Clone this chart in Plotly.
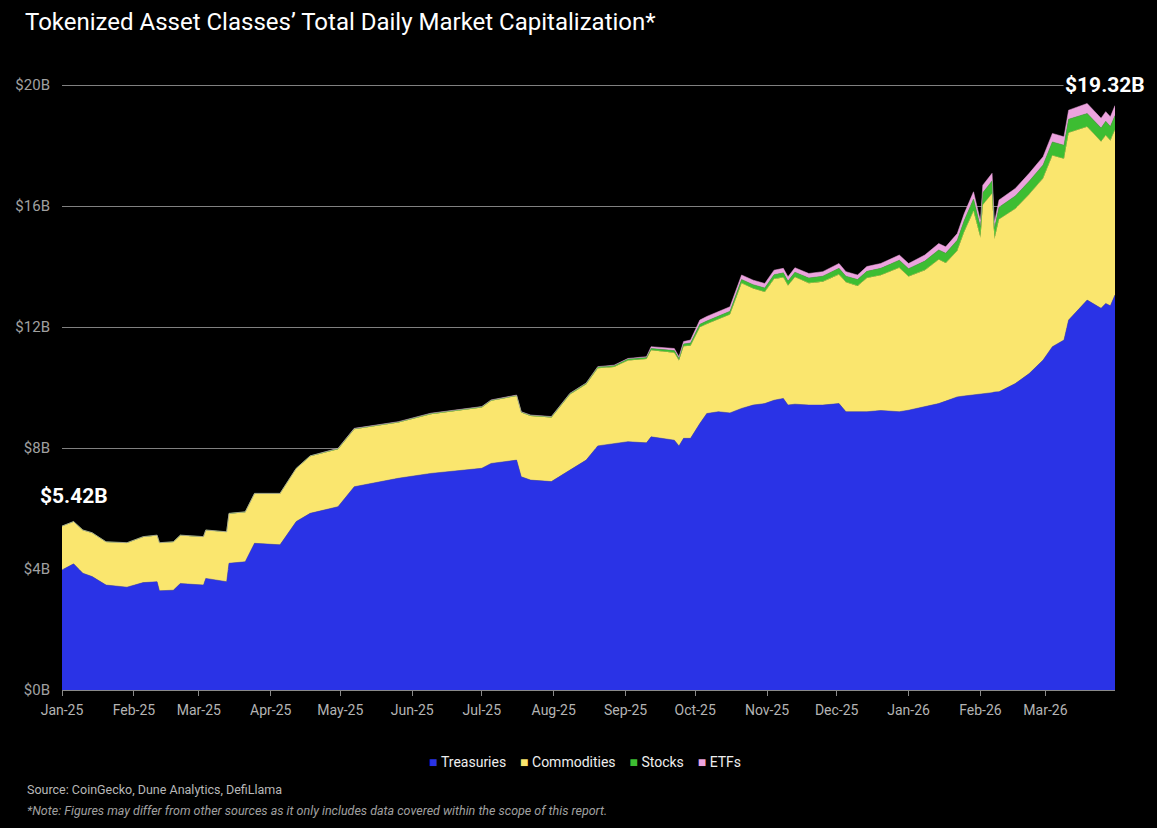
import plotly.graph_objects as go

# ---- Data (values in $B) ----
dates = [
    "2025-01-01", "2025-01-06", "2025-01-10", "2025-01-14", "2025-01-20", "2025-01-29",
    "2025-02-05", "2025-02-11", "2025-02-12", "2025-02-18", "2025-02-21", "2025-03-03",
    "2025-03-04", "2025-03-13", "2025-03-14", "2025-03-21", "2025-03-25", "2025-04-05",
    "2025-04-12", "2025-04-18", "2025-04-30", "2025-05-07", "2025-05-26", "2025-06-09",
    "2025-07-01", "2025-07-05", "2025-07-16", "2025-07-18", "2025-07-22", "2025-07-31",
    "2025-08-08", "2025-08-15", "2025-08-20", "2025-08-27", "2025-09-02", "2025-09-10",
    "2025-09-12", "2025-09-22", "2025-09-24", "2025-09-26", "2025-09-29", "2025-10-03",
    "2025-10-06", "2025-10-11", "2025-10-16", "2025-10-21", "2025-10-26", "2025-10-31",
    "2025-11-04", "2025-11-08", "2025-11-10", "2025-11-13", "2025-11-19", "2025-11-25",
    "2025-12-02", "2025-12-05", "2025-12-10", "2025-12-14", "2025-12-20", "2025-12-28",
    "2026-01-01", "2026-01-08", "2026-01-14", "2026-01-17", "2026-01-22", "2026-01-25",
    "2026-01-29", "2026-02-01", "2026-02-02", "2026-02-06", "2026-02-07", "2026-02-09",
    "2026-02-16", "2026-02-22", "2026-02-28", "2026-03-04", "2026-03-09", "2026-03-11",
    "2026-03-19", "2026-03-25", "2026-03-27", "2026-03-29", "2026-03-31",
]

treasuries = [
    3.97, 4.17, 3.86, 3.75, 3.47, 3.40,
    3.55, 3.58, 3.28, 3.30, 3.52, 3.47,
    3.69, 3.58, 4.19, 4.24, 4.85, 4.80,
    5.57, 5.84, 6.06, 6.72, 7.00, 7.16,
    7.33, 7.49, 7.60, 7.05, 6.94, 6.89,
    7.27, 7.60, 8.07, 8.15, 8.21, 8.17,
    8.37, 8.26, 8.07, 8.32, 8.32, 8.81,
    9.14, 9.20, 9.16, 9.31, 9.42, 9.47,
    9.58, 9.64, 9.42, 9.45, 9.42, 9.42,
    9.47, 9.20, 9.20, 9.20, 9.24, 9.20,
    9.25, 9.36, 9.47, 9.55, 9.69, 9.72,
    9.75, 9.78, 9.80, 9.83, 9.85, 9.86,
    10.13, 10.46, 10.91, 11.35, 11.57, 12.23,
    12.89, 12.62, 12.78, 12.70, 13.06,
]

commodities = [
    1.44, 1.39, 1.42, 1.44, 1.42, 1.46,
    1.51, 1.53, 1.58, 1.59, 1.59, 1.59,
    1.59, 1.64, 1.64, 1.64, 1.64, 1.69,
    1.75, 1.89, 1.90, 1.90, 1.84, 1.96,
    2.01, 2.07, 2.12, 2.12, 2.12, 2.12,
    2.50, 2.51, 2.57, 2.53, 2.68, 2.77,
    2.86, 2.89, 2.82, 3.04, 3.06, 3.18,
    2.96, 3.06, 3.25, 4.14, 3.85, 3.69,
    4.01, 4.00, 3.95, 4.20, 4.03, 4.08,
    4.27, 4.28, 4.16, 4.42, 4.47, 4.76,
    4.42, 4.52, 4.76, 4.57, 4.83, 5.43,
    6.08, 5.17, 6.24, 6.58, 5.05, 5.70,
    5.78, 5.93, 6.01, 6.32, 5.99, 6.19,
    5.73, 5.51, 5.56, 5.47, 5.46,
]

stocks = [
    0.01, 0.01, 0.01, 0.01, 0.01, 0.01,
    0.01, 0.01, 0.01, 0.01, 0.01, 0.01,
    0.01, 0.01, 0.01, 0.01, 0.01, 0.01,
    0.01, 0.01, 0.02, 0.02, 0.02, 0.02,
    0.02, 0.02, 0.02, 0.02, 0.02, 0.02,
    0.03, 0.03, 0.04, 0.04, 0.05, 0.05,
    0.06, 0.07, 0.07, 0.08, 0.09, 0.10,
    0.10, 0.10, 0.11, 0.12, 0.13, 0.13,
    0.14, 0.15, 0.15, 0.16, 0.17, 0.18,
    0.20, 0.20, 0.21, 0.22, 0.23, 0.25,
    0.26, 0.30, 0.32, 0.32, 0.35, 0.37,
    0.40, 0.35, 0.40, 0.42, 0.35, 0.40,
    0.42, 0.43, 0.44, 0.45, 0.45, 0.45,
    0.44, 0.45, 0.46, 0.46, 0.47,
]

etfs = [
    0.00, 0.00, 0.00, 0.00, 0.00, 0.00,
    0.00, 0.00, 0.00, 0.00, 0.00, 0.00,
    0.00, 0.00, 0.00, 0.00, 0.00, 0.00,
    0.00, 0.00, 0.01, 0.01, 0.01, 0.01,
    0.01, 0.01, 0.01, 0.01, 0.01, 0.01,
    0.01, 0.01, 0.01, 0.02, 0.02, 0.03,
    0.06, 0.07, 0.06, 0.08, 0.10, 0.14,
    0.15, 0.15, 0.15, 0.15, 0.15, 0.15,
    0.15, 0.15, 0.14, 0.15, 0.15, 0.15,
    0.16, 0.15, 0.15, 0.16, 0.16, 0.17,
    0.17, 0.20, 0.21, 0.21, 0.22, 0.23,
    0.24, 0.20, 0.25, 0.25, 0.20, 0.24,
    0.25, 0.26, 0.27, 0.28, 0.28, 0.30,
    0.33, 0.32, 0.32, 0.32, 0.33,
]

series_names = ["Treasuries", "Commodities", "Stocks", "ETFs"]
series_colors = ["#2a33e6", "#fae66e", "#3dbd32", "#eca3de"]
y_ticks = [0, 4, 8, 12, 16, 20]
y_tick_labels = ["$0B", "$4B", "$8B", "$12B", "$16B", "$20B"]
start_label = "$5.42B"
end_label = "$19.32B"

FONT = "Roboto"

fig = go.Figure()
for name, vals, col in zip(series_names, [treasuries, commodities, stocks, etfs], series_colors):
    fig.add_trace(go.Scatter(
        x=dates, y=vals, name=name, mode="lines",
        stackgroup="one", line=dict(width=0.5, color=col), fillcolor=col,
        showlegend=False, hoverinfo="x+y+name",
    ))

# legend built as text (square swatches + labels)
NB = "\u00a0"
legend_text = (NB * 4).join(
    f"<span style='color:{c}'>■</span>{NB}{n}" for n, c in zip(series_names, series_colors)
)

fig.update_layout(
    width=1157, height=828,
    paper_bgcolor="black", plot_bgcolor="black",
    margin=dict(l=62, r=42, t=82, b=138),
    font=dict(family=FONT, color="#dddddd"),
    title=dict(
        text="Tokenized Asset Classes’ Total Daily Market Capitalization*",
        x=25 / 1157, xref="container", xanchor="left",
        y=1 - 22 / 828, yref="container", yanchor="middle",
        font=dict(family=FONT, size=24, color="white"),
    ),
    showlegend=False,
    xaxis=dict(
        type="date",
        range=["2025-01-01", "2026-03-31"],
        tick0="2025-01-01", dtick="M1", tickformat="%b-%y",
        ticks="outside", ticklen=5, tickcolor="#8a8a8a",
        tickfont=dict(family=FONT, size=14, color="#b4b4b4"),
        showgrid=False, zeroline=False,
        showline=True, linecolor="#8a8a8a", linewidth=1,
        ticklabelstandoff=2,
    ),
    yaxis=dict(
        range=[0, 20.1],
        tickmode="array", tickvals=y_ticks, ticktext=y_tick_labels,
        tickfont=dict(family=FONT, size=15, color="#a0a0a0"),
        showgrid=True, gridcolor="#808080", gridwidth=1,
        zeroline=False, showline=False, ticks="",
        ticklabelstandoff=11,
    ),
    annotations=[
        dict(text=f"<b>{start_label}</b>", xref="paper", yref="y",
             x=(74 - 62) / 1053, y=(690 - 496) / 30.25, showarrow=False,
             font=dict(family=FONT, size=21, color="white"), xanchor="center", yanchor="middle"),
        dict(text=f"<b>{end_label}</b>", xref="paper", yref="y",
             x=(1105 - 62) / 1053, y=20, showarrow=False, bgcolor="black",
             font=dict(family=FONT, size=21, color="white"), xanchor="center", yanchor="middle"),
        dict(text=legend_text, xref="paper", yref="paper",
             x=(585 - 62) / 1053, y=-(762 - 690) / 608, showarrow=False,
             font=dict(family=FONT, size=14, color="#eeeeee"), xanchor="center", yanchor="middle"),
        dict(text="Source: CoinGecko, Dune Analytics, DefiLlama", xref="paper", yref="paper",
             x=(25 - 62) / 1053, y=-(789 - 690) / 608, showarrow=False,
             font=dict(family=FONT, size=12.5, color="#b8b8b8"), xanchor="left", yanchor="middle"),
        dict(text="<i>*Note: Figures may differ from other sources as it only includes data covered within the scope of this report.</i>",
             xref="paper", yref="paper",
             x=(25 - 62) / 1053, y=-(810 - 690) / 608, showarrow=False,
             font=dict(family=FONT, size=12.5, color="#a0a0a0"), xanchor="left", yanchor="middle"),
    ],
)

fig.write_html("out.html")
